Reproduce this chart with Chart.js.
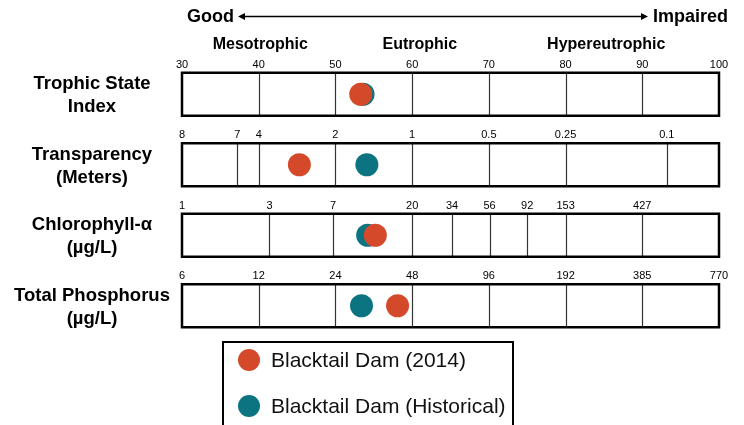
<!DOCTYPE html>
<html>
<head>
<meta charset="utf-8">
<script src="https://cdn.jsdelivr.net/npm/chart.js@4.4.0/dist/chart.umd.min.js"></script>
<style>
  html, body { margin:0; padding:0; background:#fff; }
  #wrap { width:744px; height:425px; position:relative; }
</style>
</head>
<body>
<div id="wrap"><canvas id="c"></canvas></div>
<script>
// rows, top to bottom
const rowNames = [["Trophic State","Index"],["Transparency","(Meters)"],["Chlorophyll-α","(µg/L)"],["Total Phosphorus","(µg/L)"]]
// divider lines inside each row (TSI units)
const rowLines = [
    [40,50,60,70,80,90],
    [37.2,40,50,60,70,80,93.2],
    [41.4,49.7,60,65.2,70.1,75,80,90],
    [40,50,60,70,80,90]
]
// tick labels above each row and where they sit (TSI units)
const tickTSI = [
    [30,40,50,60,70,80,90,100],
    [30,37.2,40,50,60,70,80,93.2],
    [30,41.4,49.7,60,65.2,70.1,75,80,90],
    [30,40,50,60,70,80,90,100]
]
const tickText = [
    ["30","40","50","60","70","80","90","100"],
    ["8","7","4","2","1","0.5","0.25","0.1"],
    ["1","3","7","20","34","56","92","153","427"],
    ["6","12","24","48","96","192","385","770"]
]
const zones = ["Mesotrophic","Eutrophic","Hypereutrophic"]
const zoneTSI = [40.2, 61, 85.3]
// TSI per row
const dam2014 = [53.3, 45.3, 55.2, 58.1]
const damHist = [53.6, 54.1, 54.2, 53.4]

const RED = '#d4492a'
const TEAL = '#0b7480'
const FONT = '"Liberation Sans", Arial, sans-serif'
const HALF = 0.305 //half height of a row box, in y units

function arrowHead(ctx, x, y, dir){
    ctx.beginPath()
    ctx.moveTo(x, y)
    ctx.lineTo(x - dir*7, y - 3.5)
    ctx.lineTo(x - dir*7, y + 3.5)
    ctx.closePath()
    ctx.fill()
}

const tsiBoxes = {
    id: 'tsiBoxes',
    beforeDatasetsDraw(chart){
        const ctx = chart.ctx
        const xs = chart.scales.x
        const ys = chart.scales.y
        const left = xs.getPixelForValue(30)
        const right = xs.getPixelForValue(100)
        ctx.save()
        for (let i = 0; i < rowNames.length; i++){
            const top = ys.getPixelForValue(i + 0.5 - HALF)
            const bot = ys.getPixelForValue(i + 0.5 + HALF)
            const mid = ys.getPixelForValue(i + 0.5)
            ctx.fillStyle = '#fff'
            ctx.fillRect(left, top, right-left, bot-top)
            // dividers
            ctx.strokeStyle = '#333'
            ctx.lineWidth = 1.2
            rowLines[i].forEach((v)=>{
                const px = Math.round(xs.getPixelForValue(v)) + 0.5
                ctx.beginPath()
                ctx.moveTo(px, top)
                ctx.lineTo(px, bot)
                ctx.stroke()
            })
            // outline
            ctx.strokeStyle = '#000'
            ctx.lineWidth = 2.5
            ctx.strokeRect(left, top, right-left, bot-top)
            // ticks
            ctx.fillStyle = '#000'
            ctx.font = '11px ' + FONT
            ctx.textAlign = 'center'
            ctx.textBaseline = 'alphabetic'
            tickTSI[i].forEach((v, k)=>{
                ctx.fillText(tickText[i][k], xs.getPixelForValue(v), top - 5)
            })
            // row name
            ctx.font = 'bold 18.5px ' + FONT
            ctx.textBaseline = 'middle'
            ctx.fillText(rowNames[i][0], left - 90, mid - 10)
            ctx.fillText(rowNames[i][1], left - 90, mid + 13)
        }
        ctx.restore()
    },
    afterDraw(chart){
        const ctx = chart.ctx
        const xs = chart.scales.x
        ctx.save()
        ctx.fillStyle = '#000'
        ctx.strokeStyle = '#000'
        // good / impaired arrow
        ctx.font = 'bold 18px ' + FONT
        ctx.textBaseline = 'middle'
        ctx.textAlign = 'left'
        ctx.fillText('Good', 187, 17)
        ctx.textAlign = 'right'
        ctx.fillText('Impaired', 728, 17)
        ctx.lineWidth = 1.5
        ctx.beginPath()
        ctx.moveTo(242, 16.5)
        ctx.lineTo(644, 16.5)
        ctx.stroke()
        arrowHead(ctx, 238, 16.5, -1)
        arrowHead(ctx, 648, 16.5, 1)
        // trophic zones
        ctx.font = 'bold 16px ' + FONT
        ctx.textAlign = 'center'
        zones.forEach((z, k)=>{
            ctx.fillText(z, xs.getPixelForValue(zoneTSI[k]), 45)
        })
        // legend box
        ctx.lineWidth = 2
        ctx.strokeRect(223, 342, 290, 110)
        ctx.font = '21px ' + FONT
        ctx.textAlign = 'left'
        chart.data.datasets.forEach((ds, k)=>{
            const cy = 360 + k*46
            ctx.fillStyle = ds.backgroundColor
            ctx.beginPath()
            ctx.arc(249, cy, 11, 0, Math.PI*2)
            ctx.fill()
            ctx.fillStyle = '#111'
            ctx.fillText(ds.label, 271, cy + 1)
        })
        ctx.restore()
    }
}

new Chart(document.getElementById("c"), {
    type: 'scatter',
    data: {
        datasets: [
            {
                label: 'Blacktail Dam (2014)',
                data: dam2014.map((v,i)=>({x:v, y:i+0.5})),
                backgroundColor: RED,
                borderWidth: 0,
                pointRadius: 11.5,
                pointHoverRadius: 11.5
            },
            {
                label: 'Blacktail Dam (Historical)',
                data: damHist.map((v,i)=>({x:v, y:i+0.5})),
                backgroundColor: TEAL,
                borderWidth: 0,
                pointRadius: 11.5,
                pointHoverRadius: 11.5
            }
        ]
    },
    options: {
        responsive: true,
        maintainAspectRatio: false,
        animation: false,
        devicePixelRatio: 1,
        layout: { padding: { left: 182, right: 25, top: 59, bottom: 84 } },
        scales: {
            x: { type: 'linear', min: 30, max: 100, display: false },
            y: { type: 'linear', min: 0, max: 4, reverse: true, display: false }
        },
        plugins: {
            legend: { display: false },
            tooltip: { enabled: false }
        }
    },
    plugins: [tsiBoxes]
})
</script>
</body>
</html>
